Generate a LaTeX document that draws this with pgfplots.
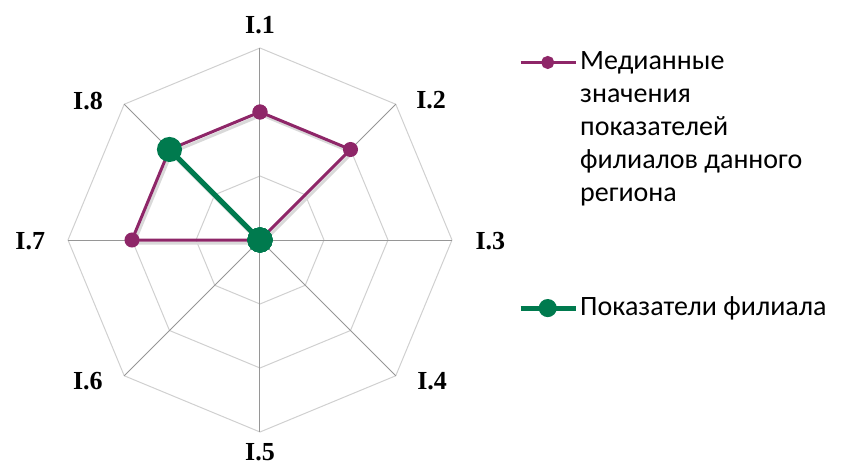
\documentclass[border=0pt]{standalone}
\usepackage{pgfplots}
\pgfplotsset{compat=1.18}
\usepgfplotslibrary{polar}
\usepackage{fontspec}
\setmainfont{Carlito}
\newfontfamily\labfont{Liberation Serif}
\definecolor{medpurple}{RGB}{142,38,104}
\definecolor{filgreen}{RGB}{0,122,78}
\definecolor{spoke}{RGB}{150,150,150}
\definecolor{ring}{RGB}{208,208,208}

\begin{document}
\begin{tikzpicture}
\begin{polaraxis}[
  hide axis,
  scale only axis,
  width=384pt, height=384pt,
  ymin=0, ymax=3,
  clip=false,
  legend style={at={(1.172,1.01)}, anchor=north west, draw=none, fill=none,
    font=\fontsize{28}{33}\selectfont, inner sep=0pt,
    cells={anchor=base west}, row sep=217pt},
  legend image code/.code={\draw[mark repeat=2,mark phase=2,#1]
    plot coordinates {(0pt,7pt)(27pt,7pt)(55pt,7pt)};},
]
% octagonal rings
\addplot[ring, line width=1pt, mark=none, forget plot] coordinates {(0,1)(45,1)(90,1)(135,1)(180,1)(225,1)(270,1)(315,1)(360,1)};
\addplot[ring, line width=1pt, mark=none, forget plot] coordinates {(0,2)(45,2)(90,2)(135,2)(180,2)(225,2)(270,2)(315,2)(360,2)};
\addplot[ring, line width=1pt, mark=none, forget plot] coordinates {(0,3)(45,3)(90,3)(135,3)(180,3)(225,3)(270,3)(315,3)(360,3)};
% spokes
\addplot[spoke, line width=1pt, mark=none, forget plot] coordinates {(0,3)(180,3)};
\addplot[spoke, line width=1pt, mark=none, forget plot] coordinates {(45,3)(225,3)};
\addplot[spoke, line width=1pt, mark=none, forget plot] coordinates {(90,3)(270,3)};
\addplot[spoke, line width=1pt, mark=none, forget plot] coordinates {(135,3)(315,3)};

\addlegendimage{medpurple, line width=3pt, mark=*, mark size=5pt, mark options={fill=medpurple}}
\addlegendentry{\begin{tabular}[t]{@{}l@{}}Медианные\\значения\\показателей\\филиалов данного\\региона\end{tabular}}
\addlegendimage{filgreen, line width=5pt, mark=*, mark size=6.5pt, mark options={fill=filgreen}}
\addlegendentry{\begin{tabular}[t]{@{}l@{}}Показатели филиала\end{tabular}}

% I.1 .. I.8 clockwise from the top, closed back to I.1
\addplot[medpurple, line width=3pt, mark=*, mark size=6pt, mark options={fill=medpurple}, forget plot,
  preaction={draw=black!15, line width=3pt, transform canvas={shift={(2pt,-3pt)}}}]
  coordinates {(90,2)(45,2)(0,0)(-45,0)(-90,0)(-135,0)(-180,2)(-225,2)(-270,2)};
\addplot[filgreen, line width=5pt, mark=*, mark size=10pt, mark options={fill=filgreen}, forget plot,
  preaction={draw=black!15, line width=5pt, transform canvas={shift={(2pt,-3pt)}}}]
  coordinates {(90,0)(45,0)(0,0)(-45,0)(-90,0)(-135,0)(-180,0)(-225,2)(-270,0)};

\coordinate (C) at (axis cs:0,0);
\begin{scope}[every node/.style={font=\labfont\bfseries\fontsize{26}{26}\selectfont, anchor=center, inner sep=0pt}]
\node at (axis cs:90,3.35) {I.1};
\node at (axis cs:39.2,3.45) {I.2};
\node at (axis cs:-0.25,3.6) {I.3};
\node at (axis cs:-39.4,3.48) {I.4};
\node at (axis cs:-90,3.31) {I.5};
\node at (axis cs:-140.6,3.48) {I.6};
\node at (axis cs:180.25,3.59) {I.7};
\node at (axis cs:141.05,3.455) {I.8};
\end{scope}
\end{polaraxis}
\pgfresetboundingbox
\path[use as bounding box] (C) ++(-260pt,-226pt) rectangle ++(841pt,466pt);
\end{tikzpicture}
\end{document}
